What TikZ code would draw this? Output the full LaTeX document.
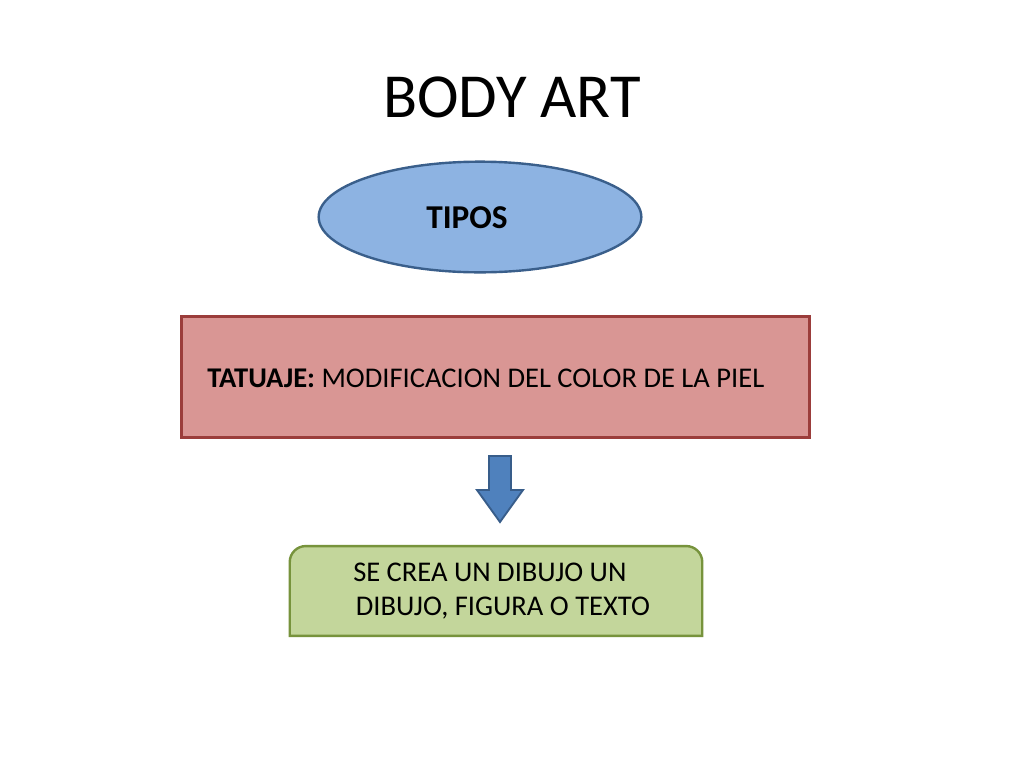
\documentclass[tikz,border=0pt]{standalone}
\usepackage{fontspec}
\setmainfont{Carlito}
\usetikzlibrary{shapes.geometric}

\definecolor{tiposfill}{HTML}{8DB3E2}
\definecolor{tiposline}{HTML}{3A5F8B}
\definecolor{tatufill}{HTML}{D99694}
\definecolor{tatuline}{HTML}{9B3D3B}
\definecolor{arrowfill}{HTML}{4F81BD}
\definecolor{arrowline}{HTML}{385D8A}
\definecolor{dibufill}{HTML}{C3D69B}
\definecolor{dibuline}{HTML}{77933C}

\begin{document}
\begin{tikzpicture}[x=0.75pt,y=-0.75pt,
    tipos/.style={ellipse, draw=tiposline, fill=tiposfill, line width=1.8pt,
                  minimum width=242pt, minimum height=83pt, inner sep=0pt},
    tatu/.style={rectangle, draw=tatuline, fill=tatufill, line width=1.8pt,
                 minimum width=471pt, minimum height=91pt, inner sep=0pt},
    dibu/.style={rectangle, minimum width=309pt, minimum height=67pt, inner sep=0pt},
    txtlabel/.style={font=\fontsize{21.4}{25}\selectfont, inner sep=0pt}]

\useasboundingbox [fill=white] (0,0) rectangle (1024,768);

\node [font=\fontsize{47}{56}\selectfont] (title) at (512,97) {BODY ART};

\node [tipos] (tiposell) at (480,217) {};
\node [txtlabel, font=\fontsize{25}{30}\selectfont\bfseries] (tipostxt) at (467,218) {TIPOS};

\node [tatu] (tatubox) at (495.5,377) {};
\node [txtlabel, anchor=west] (tatutxt) at (207,378) {\textbf{TATUAJE:} MODIFICACION DEL COLOR DE LA PIEL};

% flecha de bloque
\draw [draw=arrowline, fill=arrowfill, line width=1.4pt]
    (489,456) -- (511,456) -- (511,490) -- (523,490) -- (500,522)
    -- (477,490) -- (489,490) -- cycle;

% caja verde, esquinas de arriba redondeadas
\node [dibu] (dibubox) at (496,591) {};
\draw [draw=dibuline, fill=dibufill, line width=1.8pt]
    (dibubox.south west) [rounded corners=12] -- (dibubox.north west)
    -- (dibubox.north east) [sharp corners] -- (dibubox.south east) -- cycle;
\node [txtlabel, anchor=west, align=left] (dibutxt) at (353,591)
    {SE CREA UN DIBUJO UN\\\hspace{2pt}DIBUJO, FIGURA O TEXTO};

\end{tikzpicture}
\end{document}
